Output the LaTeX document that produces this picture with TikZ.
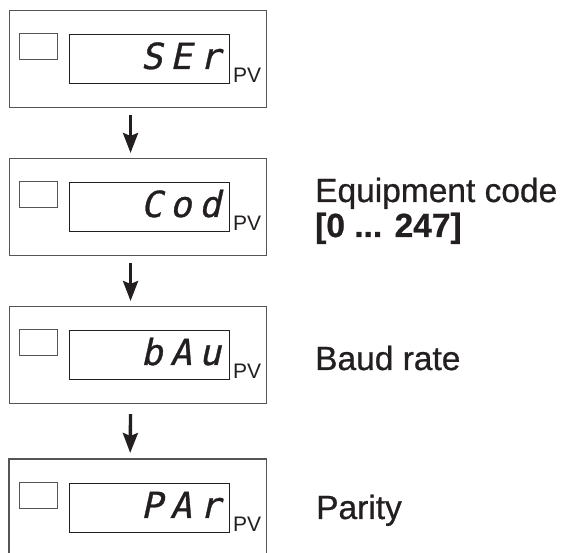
\documentclass[tikz,border=0pt]{standalone}
\usepackage{fontspec}
\setmainfont{Liberation Sans}
\newfontfamily\segfont[FakeSlant=0.22,FakeBold=0.8]{DejaVu Sans Mono}
\newfontfamily\labfont[FakeBold=0.7]{Liberation Sans}
\usetikzlibrary{arrows.meta}
\definecolor{ink}{HTML}{231F20}
\definecolor{edge}{HTML}{555555}
\newcommand{\sg}{\kern7.5pt}
\tikzset{
  outerbox/.style={draw=edge, line width=1.1pt, minimum width=257pt, minimum height=97pt, anchor=north west, inner sep=0pt},
  ledbox/.style={draw=edge, line width=1.1pt, minimum width=38pt, minimum height=26pt, anchor=north west, inner sep=0pt},
  dispbox/.style={draw=ink, line width=1.1pt, minimum width=160pt, minimum height=49pt, anchor=north west, inner sep=0pt},
  segtext/.style={anchor=base east, inner sep=0pt, text=ink, font=\segfont\fontsize{36}{36}\selectfont},
  pvtext/.style={anchor=base west, inner sep=0pt, text=ink, font=\fontsize{21}{21}\selectfont},
  label/.style={anchor=base west, inner sep=0pt, text=ink, font=\labfont\fontsize{33.5}{36}\selectfont},
  flow/.style={draw=ink, line width=3.4pt, -{Stealth[length=20pt, width=15pt, inset=3pt]}},
}
\begin{document}
\begin{tikzpicture}[x=1pt,y=-1pt]
\useasboundingbox (0,0) rectangle (563,553);
\fill[white] (0,0) rectangle (563,553);
% panels 1-3
\foreach \n/\t/\txt in {1/10/S\sg E\sg r, 2/158/C\sg o\sg d, 3/306/b\sg A\sg u}{
  \node[outerbox] (b\n) at (9,\t) {};
  \node[ledbox] (l\n) at (19,\t+23) {};
  \node[dispbox] (d\n) at (69,\t+24) {};
  \node[segtext] (s\n) at (221,\t+59) {\txt};
  \node[pvtext] (p\n) at (233,\t+73) {PV};
}
% panel 4 (open at bottom)
\node[anchor=north west, minimum width=257pt, minimum height=94pt, inner sep=0pt] (b4) at (9,459) {};
\draw[draw=edge, line width=1.1pt] (b4.south west) -- (b4.north west) -- (b4.north east) -- (b4.south east);
\node[ledbox] (l4) at (19,459+23) {};
\node[dispbox] (d4) at (69,459+24) {};
\node[segtext] (s4) at (221,459+59) {P\sg A\sg r};
\node[pvtext] (p4) at (233,459+73) {PV};
% arrows
\draw[flow] ([xshift=-7.5pt,yshift=-7pt]b1.south) -- ([xshift=-7.5pt,yshift=5pt]b2.north);
\draw[flow] ([xshift=-7.5pt,yshift=-7pt]b2.south) -- ([xshift=-7.5pt,yshift=5pt]b3.north);
\draw[flow] ([xshift=-7.5pt,yshift=-10pt]b3.south) -- ([xshift=-7.5pt,yshift=6pt]b4.north);
% labels
\node[label] (t1) at (315,202) {Equipment code};
\node[label, font=\labfont\bfseries\fontsize{33.5}{36}\selectfont] (t2) at (315,237) {[0 ... 247]};
\node[label] (t3) at (315,370) {Baud rate};
\node[label] (t4) at (316,519) {Parity};
\end{tikzpicture}
\end{document}
